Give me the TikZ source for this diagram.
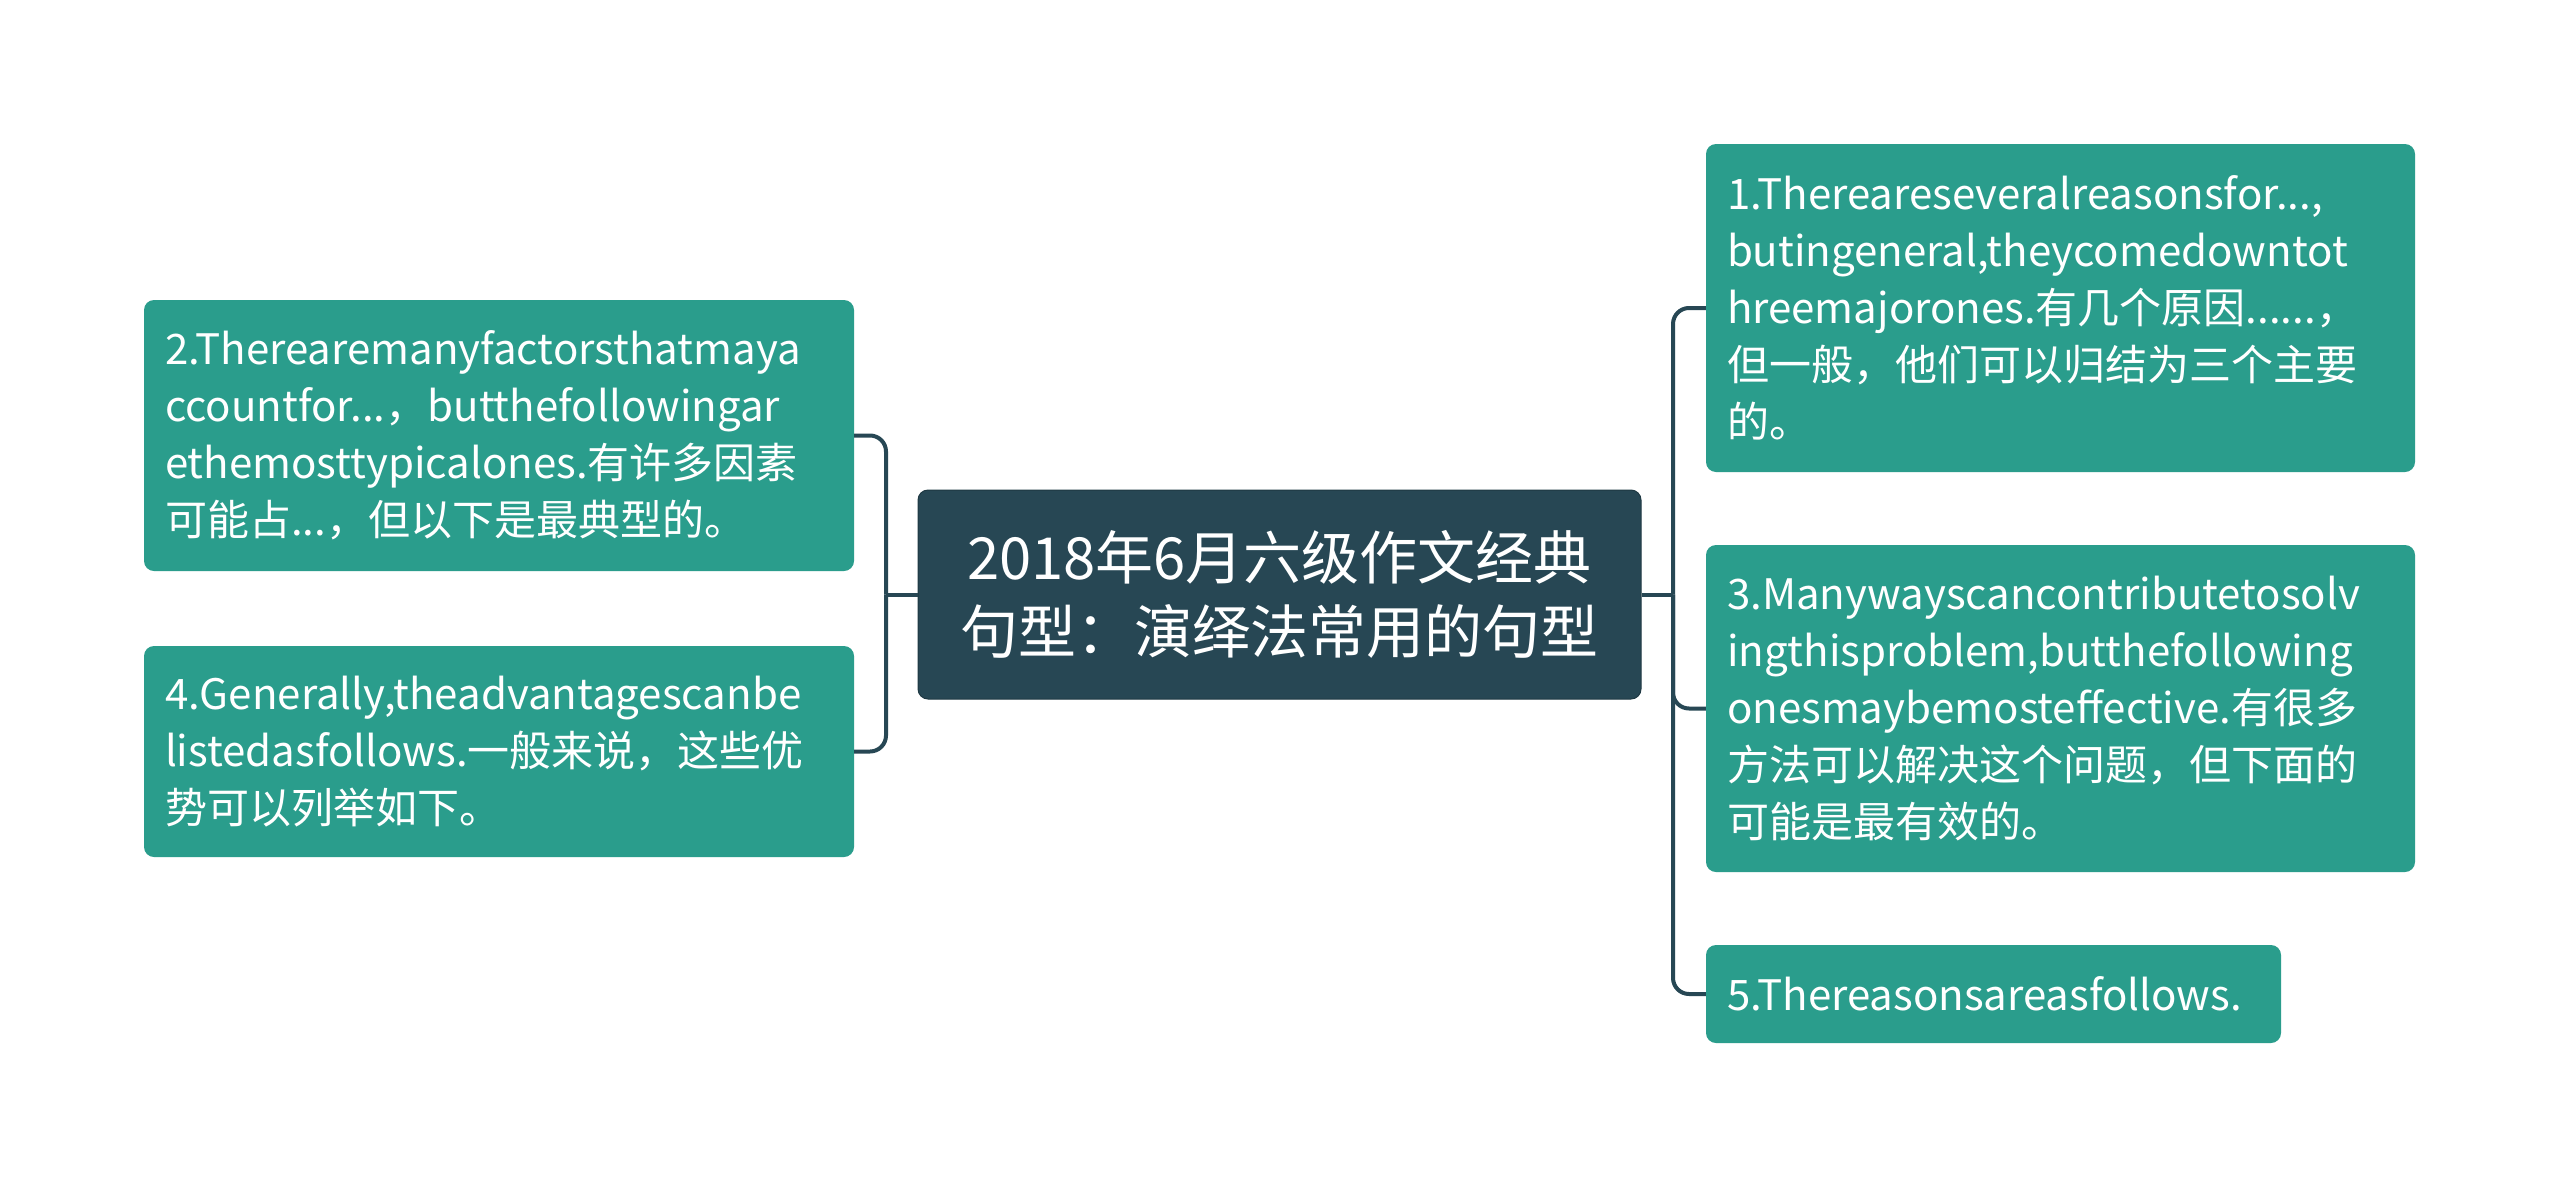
\documentclass[tikz,border=0pt]{standalone}
\usepackage{fontspec}
\setmainfont{Noto Sans CJK SC}
\definecolor{teal1}{RGB}{42,157,140}
\definecolor{dark1}{RGB}{39,71,84}
\tikzset{
  leaf/.style={fill=teal1, rounded corners=10pt, text=white, align=left, inner xsep=21pt, inner ysep=0pt,
    font=\fontsize{42}{57}\selectfont, anchor=center},
  rootbox/.style={fill=dark1, draw=dark1!80!black, line width=1pt, rounded corners=10pt, text=white, align=center,
    font=\fontsize{58}{74}\selectfont, anchor=center},
  conn/.style={draw=dark1, line width=4pt},
  elbow/.style={conn, rounded corners=16pt},
}
\begin{document}
\begin{tikzpicture}[x=1pt,y=-1pt]
\useasboundingbox (0,0) rectangle (2560,1189);
\fill[white] (0,0) rectangle (2560,1189);
\node[rootbox, minimum width=723pt, minimum height=209pt] (c) at (1279.5,594.5)
  {2018年6月六级作文经典\\句型：演绎法常用的句型};
\node[leaf, minimum width=710pt, minimum height=271pt, text width=668pt] (n2) at (499,435.5)
  {2.Therearemanyfactorsthatmaya\\ccountfor...，butthefollowingar\\ethemosttypicalones.有许多因素\\可能占...，但以下是最典型的。};
\node[leaf, minimum width=710pt, minimum height=211pt, text width=668pt] (n4) at (499,751.5)
  {4.Generally,theadvantagescanbe\\listedasfollows.一般来说，这些优\\势可以列举如下。};
\node[leaf, minimum width=709pt, minimum height=328pt, text width=667pt] (n1) at (2060.5,308)
  {1.Thereareseveralreasonsfor...,\\butingeneral,theycomedowntot\\hreemajorones.有几个原因......，\\但一般，他们可以归结为三个主要\\的。};
\node[leaf, minimum width=709pt, minimum height=327pt, text width=667pt] (n3) at (2060.5,708.5)
  {3.Manywayscancontributetosolv\\ingthisproblem,butthefollowing\\onesmaybemosteffective.有很多\\方法可以解决这个问题，但下面的\\可能是最有效的。};
\node[leaf, minimum width=575pt, minimum height=98pt, text width=533pt] (n5) at (1993.5,994)
  {5.Thereasonsareasfollows.};
\coordinate (jl) at (886,594.5);
\coordinate (jr) at (1673,594.5);
\draw[conn] (c.west) -- (jl);
\draw[elbow] (jl) |- (n2.east);
\draw[elbow] (jl) |- (n4.east);
\draw[conn] (c.east) -- (jr);
\draw[elbow] (jr) |- (n1.west);
\draw[elbow] (jr) |- (n3.west);
\draw[elbow] (jr) |- (n5.west);
\end{tikzpicture}
\end{document}
